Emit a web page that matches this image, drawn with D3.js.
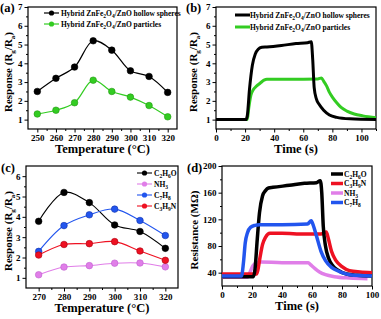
<!DOCTYPE html>
<html lang="en">
  <head>
    <meta charset="UTF-8" />
    <script src="https://cdnjs.cloudflare.com/ajax/libs/d3/7.8.5/d3.min.js"></script>
    <title>Gas sensing</title>
    <style>
      body { margin: 0; background: white; }
      text { font-family: "Liberation Serif", "Times New Roman", serif; font-weight: bold; }
      .tick { font-size: 9px; }
      .title { font-size: 12.5px; }
      .ytitle { font-size: 11px; }
      .legend { font-size: 7.5px; }
      .frame { fill: none; stroke: black; stroke-width: 1.2; }
    </style>
  </head>
  <body>
    <script>
      // (a) response vs temperature
      const tempsA = [250, 260, 270, 280, 290, 300, 310, 320];
      const hollowA = [2.5, 3.2, 3.8, 5.2, 4.7, 3.6, 3.3, 2.45];
      const particlesA = [1.3, 1.5, 1.9, 3.1, 2.5, 2.2, 1.75, 1.15];

      // (b) response transients
      const hollowB = [[0, 1], [20.5, 1], [21.5, 1.2], [23, 2.6], [25, 3.9], [27, 4.5], [29, 4.75], [31.5, 4.85],
        [35, 4.87], [45, 4.95], [55, 5.05], [63, 5.1], [65.5, 5.15], [66.5, 4.2], [67.5, 2.7], [69, 2.1],
        [71, 1.8], [74, 1.5], [78, 1.25], [83, 1.12], [92, 1.04], [110, 1.0]];
      const particlesB = [[0, 1], [21.5, 1], [22.5, 1.6], [24, 2.3], [25.7, 2.6], [28, 2.8], [30.5, 2.95], [33, 3.1],
        [35, 3.15], [50, 3.15], [70, 3.17], [72.5, 3.22], [74, 3.05], [76, 2.8], [78, 2.45], [80, 2.2],
        [83, 1.9], [86, 1.65], [90, 1.45], [95, 1.3], [101, 1.2], [110, 1.1]];

      // (c) response of different gases vs temperature
      const tempsC = [270, 280, 290, 300, 310, 320];
      const ethanolC = [3.78, 5.2, 4.7, 3.6, 3.28, 2.45];
      const ammoniaC = [1.15, 1.53, 1.6, 1.72, 1.73, 1.54];
      const tolueneC = [2.3, 3.57, 4.1, 4.38, 3.82, 3.08];
      const tmaC = [2.12, 2.64, 2.68, 2.78, 2.32, 1.86];

      // (d) resistance transients
      const ethanolD = [[0, 34], [21, 34], [22, 45], [23.5, 90], [25, 130], [27, 155], [29, 163], [31, 167],
        [34, 168], [45, 171], [55, 174], [63, 175], [65.5, 178], [66.5, 160], [67.5, 110], [69, 80],
        [71, 62], [74, 50], [77, 44], [83, 38], [90, 36], [100, 35]];
      const tmaD = [[0, 38], [23, 38], [24, 45], [25.5, 65], [27, 82], [29, 93], [32, 99], [40, 99],
        [55, 98], [66, 98], [69.5, 101], [71, 90], [73, 72], [76, 58], [80, 49], [85, 43], [92, 41], [100, 40]];
      const ammoniaD = [[0, 33], [17, 33], [18.5, 40], [20.5, 50], [23, 55], [26, 56], [40, 55], [57.5, 55],
        [59, 52], [62, 46], [65, 41], [69, 37], [75, 34], [85, 32], [97, 31]];
      const tolueneD = [[0, 35], [13, 35], [14.3, 55], [15.5, 85], [17, 100], [19, 108], [22, 111], [25, 112],
        [40, 112], [57, 113], [59.5, 118], [61, 110], [63, 95], [66, 72], [69, 58], [73, 48], [78, 42],
        [85, 37], [100, 35]];

      const svg = d3.select("body").append("svg").attr("width", 381).attr("height", 319);

      const black = "#000000", green = "#33cc22", violet = "#e07ee8", blue = "#2255ee", red = "#ee1122";

      function panel(opt) {
        const g = svg.append("g");
        const x = d3.scaleLinear().domain(opt.xd).range(opt.xr);
        const y = d3.scaleLinear().domain(opt.yd).range(opt.yr);
        // minor ticks
        g.append("g").attr("transform", `translate(0,${opt.yr[0]})`)
          .call(d3.axisBottom(x).tickValues(opt.xminor).tickSize(2).tickFormat(""))
          .call(a => a.select(".domain").remove());
        g.append("g").attr("transform", `translate(${opt.xr[0]},0)`)
          .call(d3.axisLeft(y).tickValues(opt.yminor).tickSize(2).tickFormat(""))
          .call(a => a.select(".domain").remove());
        const xa = g.append("g").attr("transform", `translate(0,${opt.yr[0]})`)
          .call(d3.axisBottom(x).tickValues(opt.xticks).tickFormat(d3.format("d")).tickSize(3.5).tickPadding(2.5));
        const ya = g.append("g").attr("transform", `translate(${opt.xr[0]},0)`)
          .call(d3.axisLeft(y).tickValues(opt.yticks).tickFormat(d3.format("d")).tickSize(3.5).tickPadding(2));
        [xa, ya].forEach(a => {
          a.select(".domain").remove();
          a.selectAll("text").attr("class", "tick").attr("font-size", null).attr("font-family", null);
        });
        g.selectAll(".tick line").attr("stroke-width", 1);
        g.append("rect").attr("class", "frame")
          .attr("x", opt.xr[0]).attr("y", opt.yr[1])
          .attr("width", opt.xr[1] - opt.xr[0]).attr("height", opt.yr[0] - opt.yr[1]);
        svg.append("text").attr("class", "title").attr("x", opt.lx).attr("y", opt.ly).text(opt.label);
        svg.append("text").attr("class", "title").attr("text-anchor", "middle")
          .attr("x", (opt.xr[0] + opt.xr[1]) / 2).attr("y", opt.yr[0] + 24).text(opt.xtitle);
        const yt = svg.append("text").attr("class", "ytitle").attr("text-anchor", "middle")
          .attr("transform", `translate(${opt.ytx},${(opt.yr[0] + opt.yr[1]) / 2 + 4}) rotate(-90)`);
        opt.ytitle(yt);
        return { g, x, y };
      }

      function respTitle(t) {
        t.append("tspan").text("Response (R");
        t.append("tspan").attr("font-size", 7).attr("dy", 3).text("g");
        t.append("tspan").attr("dy", -3).text("/R");
        t.append("tspan").attr("font-size", 7).attr("dy", 3).text("a");
        t.append("tspan").attr("dy", -3).text(")");
      }

      function legendLabel(t, parts) {
        parts.forEach(p => {
          if (p.sub) t.append("tspan").attr("font-size", 5.5).attr("dy", 2).text(p.sub);
          else t.append("tspan").attr("dy", p.up ? -2 : 0).text(p.t);
        });
      }

      // ---------- (a)
      const A = panel({
        xd: [245, 325], xr: [28, 177], yd: [0.5, 7], yr: [129, 7],
        xticks: tempsA, xminor: d3.range(255, 325, 10), yticks: [1, 2, 3, 4, 5, 6, 7], yminor: [1.5, 2.5, 3.5, 4.5, 5.5, 6.5],
        label: "(a)", lx: 0, ly: 12, xtitle: "Temperature (°C)", ytx: 12, ytitle: respTitle
      });
      const lineT = d3.line().curve(d3.curveCatmullRom.alpha(0.5));
      [[hollowA, black, "#000"], [particlesA, green, "#229911"]].forEach(([vals, c, edge]) => {
        A.g.append("path").attr("fill", "none").attr("stroke", c).attr("stroke-width", 1.2)
          .attr("d", lineT(tempsA.map((t, i) => [A.x(t), A.y(vals[i])])));
        A.g.selectAll(null).data(vals).join("circle")
          .attr("cx", (d, i) => A.x(tempsA[i])).attr("cy", d => A.y(d)).attr("r", 3.3)
          .attr("fill", c).attr("stroke", edge).attr("stroke-width", 0.6);
      });
      const legA = [["Hybrid ZnFe", "2", "O", "4", "/ZnO hollow spheres", black],
                    ["Hybrid ZnFe", "2", "O", "4", "/ZnO particles", green]];
      legA.forEach((l, i) => {
        const yy = 13 + i * 11;
        A.g.append("line").attr("x1", 44).attr("x2", 59).attr("y1", yy).attr("y2", yy).attr("stroke", l[5]).attr("stroke-width", 1.2);
        A.g.append("circle").attr("cx", 51.5).attr("cy", yy).attr("r", 2.6).attr("fill", l[5]);
        const t = A.g.append("text").attr("class", "legend").attr("x", 61).attr("y", yy + 2.5);
        legendLabel(t, [{ t: l[0] }, { sub: l[1] }, { t: l[2], up: true }, { sub: l[3] }, { t: l[4], up: true }]);
      });

      // ---------- (b)
      const B = panel({
        xd: [0, 110], xr: [216, 376], yd: [0.5, 7], yr: [129, 7],
        xticks: [0, 20, 40, 60, 80, 100], xminor: d3.range(10, 111, 20), yticks: [1, 2, 3, 4, 5, 6, 7], yminor: [1.5, 2.5, 3.5, 4.5, 5.5, 6.5],
        label: "(b)", lx: 186, ly: 12, xtitle: "Time (s)", ytx: 197, ytitle: respTitle
      });
      const lineS = d3.line().curve(d3.curveMonotoneX);
      [[particlesB, green], [hollowB, black]].forEach(([pts, c]) => {
        B.g.append("path").attr("fill", "none").attr("stroke", c).attr("stroke-width", 3)
          .attr("stroke-linejoin", "round")
          .attr("d", lineS(pts.map(p => [B.x(p[0]), B.y(p[1])])));
      });
      legA.forEach((l, i) => {
        const yy = 15 + i * 12;
        B.g.append("line").attr("x1", 235).attr("x2", 250).attr("y1", yy).attr("y2", yy).attr("stroke", l[5]).attr("stroke-width", 3);
        const t = B.g.append("text").attr("class", "legend").attr("x", 250).attr("y", yy + 2.5);
        legendLabel(t, [{ t: l[0] }, { sub: l[1] }, { t: l[2], up: true }, { sub: l[3] }, { t: l[4], up: true }]);
      });

      // ---------- (c)
      const C = panel({
        xd: [265, 325], xr: [26, 178], yd: [0.5, 6.5], yr: [288, 166],
        xticks: tempsC, xminor: d3.range(275, 325, 10), yticks: [1, 2, 3, 4, 5, 6], yminor: [1.5, 2.5, 3.5, 4.5, 5.5],
        label: "(c)", lx: 1, ly: 172, xtitle: "Temperature (°C)", ytx: 12, ytitle: respTitle
      });
      const seriesC = [[ethanolC, black, "#000"], [ammoniaC, violet, "#c060d0"], [tolueneC, blue, "#1133aa"], [tmaC, red, "#aa0011"]];
      seriesC.forEach(([vals, c, edge]) => {
        C.g.append("path").attr("fill", "none").attr("stroke", c).attr("stroke-width", 1.1)
          .attr("d", lineT(tempsC.map((t, i) => [C.x(t), C.y(vals[i])])));
        C.g.selectAll(null).data(vals).join("circle")
          .attr("cx", (d, i) => C.x(tempsC[i])).attr("cy", d => C.y(d)).attr("r", 3.3)
          .attr("fill", c).attr("stroke", edge).attr("stroke-width", 0.6);
      });
      const legC = [[[{ t: "C" }, { sub: "2" }, { t: "H", up: true }, { sub: "6" }, { t: "O", up: true }], black],
                    [[{ t: "NH" }, { sub: "3" }], violet],
                    [[{ t: "C" }, { sub: "7" }, { t: "H", up: true }, { sub: "8" }], blue],
                    [[{ t: "C" }, { sub: "3" }, { t: "H", up: true }, { sub: "9" }, { t: "N", up: true }], red]];
      legC.forEach((l, i) => {
        const yy = 173 + i * 11;
        C.g.append("line").attr("x1", 137).attr("x2", 152).attr("y1", yy).attr("y2", yy).attr("stroke", l[1]).attr("stroke-width", 1.1);
        C.g.append("circle").attr("cx", 144.5).attr("cy", yy).attr("r", 2.6).attr("fill", l[1]);
        const t = C.g.append("text").attr("class", "legend").attr("x", 154).attr("y", yy + 2.5);
        legendLabel(t, l[0]);
      });

      // ---------- (d)
      const D = panel({
        xd: [0, 100], xr: [222, 372], yd: [20, 200], yr: [286, 166],
        xticks: [0, 20, 40, 60, 80, 100], xminor: d3.range(10, 100, 20), yticks: [40, 80, 120, 160, 200], yminor: [60, 100, 140, 180],
        label: "(d)", lx: 187, ly: 172, xtitle: "Time (s)", ytx: 198,
        ytitle: t => t.text("Resistance (MΩ)")
      });
      [[ammoniaD, violet], [tmaD, red], [ethanolD, black], [tolueneD, blue]].forEach(([pts, c]) => {
        D.g.append("path").attr("fill", "none").attr("stroke", c).attr("stroke-width", 3.5)
          .attr("stroke-linejoin", "round")
          .attr("d", lineS(pts.map(p => [D.x(p[0]), D.y(p[1])])));
      });
      const legD = [legC[0], legC[3], legC[1], legC[2]];
      legD.forEach((l, i) => {
        const yy = 174 + i * 9.5;
        D.g.append("line").attr("x1", 331).attr("x2", 343).attr("y1", yy).attr("y2", yy).attr("stroke", l[1]).attr("stroke-width", 3.5);
        const t = D.g.append("text").attr("class", "legend").attr("x", 344).attr("y", yy + 2.5);
        legendLabel(t, l[0]);
      });
    </script>
  </body>
</html>
